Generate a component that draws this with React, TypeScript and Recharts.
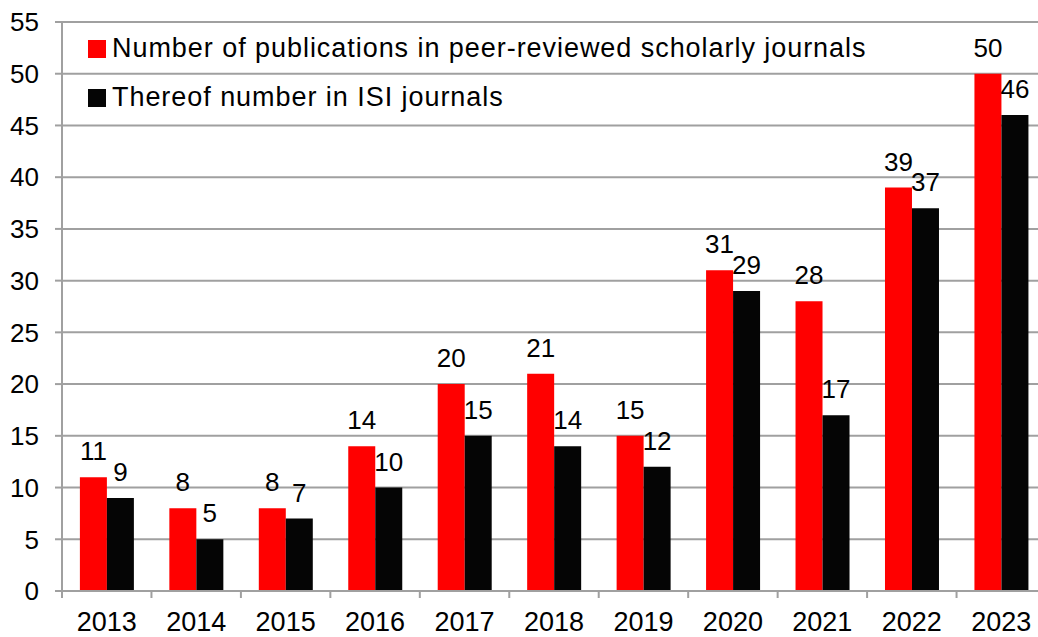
import React from "react";
import { BarChart, Bar, XAxis, YAxis, CartesianGrid, Legend, LabelList } from "recharts";

const years = ["2013", "2014", "2015", "2016", "2017", "2018", "2019", "2020", "2021", "2022", "2023"];
const publications = [11, 8, 8, 14, 20, 21, 15, 31, 28, 39, 50];
const isiJournals = [9, 5, 7, 10, 15, 14, 12, 29, 17, 37, 46];
const yTicks = [0, 5, 10, 15, 20, 25, 30, 35, 40, 45, 50, 55];
const seriesNames = [
  "Number of publications in peer-reviewed scholarly journals",
  "Thereof number in ISI journals",
];

const data = years.map((y, i) => ({ year: y, pub: publications[i], isi: isiJournals[i] }));

const FONT = "'Liberation Sans', Arial, sans-serif";
const GRID = "#a0a0a0";
const TICK_SIZE = 7;
const TICK_MARGIN = 14;

const XTick = (props: any) => {
  const { x, y, payload, index } = props;
  const half = payload && typeof payload.offset === "number" && payload.offset > 0 ? payload.offset : 44.7;
  const top = y - TICK_SIZE - TICK_MARGIN;
  return (
    <g>
      <line x1={x - half} x2={x - half} y1={top} y2={top + TICK_SIZE} stroke={GRID} strokeWidth={2} />
      {index === years.length - 1 && (
        <line x1={x + half} x2={x + half} y1={top} y2={top + TICK_SIZE} stroke={GRID} strokeWidth={2} />
      )}
      <text x={x} y={y} dy="0.71em" textAnchor="middle" fontSize={27} fontFamily={FONT} fill="#000">
        {payload.value}
      </text>
    </g>
  );
};

const LegendContent = (props: any) => {
  const { payload } = props;
  return (
    <div style={{ fontFamily: FONT, fontSize: 27, color: "#000", letterSpacing: 0.95 }}>
      {(payload || []).map((p: any, i: number) => (
        <div key={i} style={{ height: 49, display: "flex", alignItems: "center", whiteSpace: "nowrap" }}>
          <span style={{ display: "inline-block", width: 18, height: 18, background: p.color, marginRight: 6 }} />
          <span>{p.value}</span>
        </div>
      ))}
    </div>
  );
};

export default function App() {
  return (
    <div style={{ position: "absolute", left: 0, top: 0, width: 1038, height: 637, overflow: "hidden", background: "#fff", fontFamily: FONT }}>
      <BarChart
        width={1050}
        height={637}
        data={data}
        margin={{ top: 22, right: 4, bottom: 0, left: 0 }}
        barCategoryGap="20%"
        barGap={0}
      >
        <CartesianGrid vertical={false} stroke={GRID} strokeWidth={2} />
        <XAxis
          dataKey="year"
          height={46}
          tickLine={false}
          axisLine={{ stroke: GRID, strokeWidth: 2 }}
          tickSize={TICK_SIZE}
          tickMargin={TICK_MARGIN}
          tick={<XTick />}
          interval={0}
        />
        <YAxis
          width={62}
          domain={[0, 55]}
          ticks={yTicks}
          interval={0}
          axisLine={{ stroke: GRID, strokeWidth: 2 }}
          tickLine={{ stroke: GRID, strokeWidth: 2 }}
          tickSize={TICK_SIZE}
          tickMargin={16}
          tick={{ fontSize: 26, fontFamily: FONT, fill: "#000" }}
        />
        <Legend
          layout="vertical"
          align="center"
          verticalAlign="middle"
          content={<LegendContent />}
          wrapperStyle={{ position: "absolute", left: 88, top: 24, width: "auto" }}
        />
        <Bar dataKey="pub" name={seriesNames[0]} fill="#ff0000" isAnimationActive={false}>
          <LabelList dataKey="pub" position="top" offset={17} fontSize={26} fontFamily={FONT} fill="#000" />
        </Bar>
        <Bar dataKey="isi" name={seriesNames[1]} fill="#050505" isAnimationActive={false}>
          <LabelList dataKey="isi" position="top" offset={17} fontSize={26} fontFamily={FONT} fill="#000" />
        </Bar>
      </BarChart>
    </div>
  );
}
